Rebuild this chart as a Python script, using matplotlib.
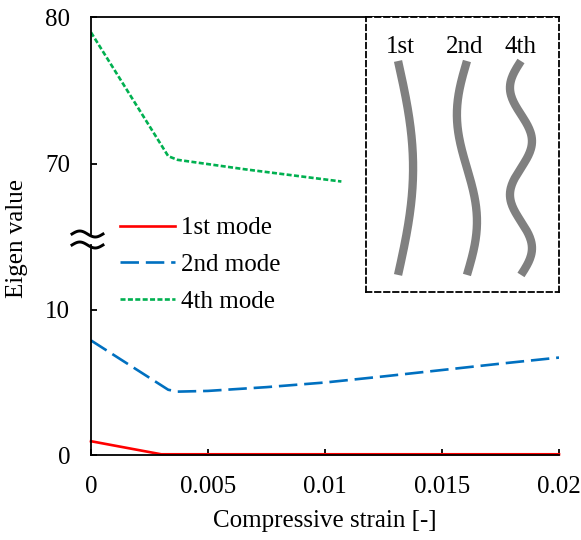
import numpy as np
import matplotlib
matplotlib.use('Agg')
import matplotlib.pyplot as plt
from matplotlib.lines import Line2D

plt.rcParams['font.family'] = ['Liberation Serif', 'DejaVu Serif']
plt.rcParams['font.size'] = 18

# data
strain_1st = [0, 0.003, 0.02]
eig_1st = [0.95, 0.05, 0.05]

strain_2nd = [0, 0.0033, 0.0037, 0.005, 0.0075, 0.01, 0.0125, 0.015, 0.0175, 0.02]
eig_2nd = [7.9, 4.5, 4.37, 4.42, 4.68, 5.0, 5.42, 5.86, 6.3, 6.72]

strain_4th = [0, 0.0033, 0.0037, 0.0066, 0.0107]
eig_4th = [78.95, 70.5, 70.25, 69.6, 68.77]

xticks = [0, 0.005, 0.01, 0.015, 0.02]
xticklabels = ['0', '0.005', '0.01', '0.015', '0.02']
legend_labels = ['1st mode', '2nd mode', '4th mode']

inset_labels = ['1st', '2nd', '4th']
inset_halfwaves = [1, 2, 4]

W, H = 581, 540
fig = plt.figure(figsize=(W / 100, H / 100), dpi=100)

def fx(px):
    return px / W

def fy(py):
    return 1 - py / H

left, right = 91, 559
ax_bot = fig.add_axes([fx(left), fy(455), fx(right - left), (455 - 245) / H])
ax_top = fig.add_axes([fx(left), fy(234), fx(right - left), (234 - 17) / H], sharex=ax_bot)

styles = [dict(color='#FF0000', lw=1.9, ls='-'),
          dict(color='#0070C0', lw=1.9, ls=(0, (7, 2.6))),
          dict(color='#00B050', lw=1.9, ls=(0, (1.9, 0.9)))]

for ax in (ax_bot, ax_top):
    ax.plot(strain_1st, eig_1st, clip_on=False, **styles[0])
    ax.plot(strain_2nd, eig_2nd, **styles[1])
    ax.plot(strain_4th, eig_4th, **styles[2])
    ax.spines['right'].set_visible(False)
    for s in ax.spines.values():
        s.set_linewidth(1.3)
    ax.tick_params(direction='in', length=4, width=1.3, pad=15, labelsize=18)

ax_bot.set_ylim(0, (455 - 245) / 14.5)
ax_top.set_ylim(80 - (234 - 17) / 14.65, 80)
ax_bot.set_xlim(0, 0.02)
ax_bot.spines['top'].set_visible(False)
ax_top.spines['bottom'].set_visible(False)
ax_top.tick_params(axis='x', bottom=False, labelbottom=False)
ax_bot.set_yticks([0, 10])
ax_top.set_yticks([70, 80])
ax_bot.set_xticks(xticks)
ax_bot.set_xticklabels(xticklabels)
ax_bot.tick_params(axis='x', pad=15)
ax_bot.set_xlabel('Compressive strain [-]', fontsize=18, labelpad=9)
fig.text(fx(17), fy(238), 'Eigen value', rotation=90, ha='center', va='center', fontsize=18)

# break marks on the y axis
t = np.linspace(0, 1, 40)
for yb in (234, 245):
    xs = 72 + 31 * t
    ys = yb - 3 * np.sin(2 * np.pi * t)
    fig.add_artist(Line2D(fx(xs), fy(ys), color='black', lw=2.1))

handles = [Line2D([], [], **st) for st in styles]
fig.legend(handles, legend_labels, loc='upper left', bbox_to_anchor=(fx(120), fy(217)),
           frameon=False, borderpad=0, borderaxespad=0, handlelength=2.2,
           handletextpad=0.25, labelspacing=0.56, fontsize=18)

# inset with mode shapes
axi = fig.add_axes([fx(366), fy(292), fx(559 - 366), (292 - 17) / H])
axi.set_xlim(0, 1)
axi.set_ylim(0, 1)
axi.set_xticks([])
axi.set_yticks([])
for s in axi.spines.values():
    s.set_linestyle((0, (3, 2)))
    s.set_linewidth(1.3)
centers = [0.166, 0.523, 0.803]
amps = [0.078, -0.052, -0.057]
label_x = [0.18, 0.513, 0.803]
ty = np.linspace(0, 1, 200)
for lab, n, c, a, lx in zip(inset_labels, inset_halfwaves, centers, amps, label_x):
    xs = c + a * np.sin(n * np.pi * ty)
    ys = 0.84 - (0.84 - 0.062) * ty
    axi.plot(xs, ys, color='#808080', lw=6, solid_capstyle='butt')
    axi.text(lx, 0.89, lab, ha='center', va='center', fontsize=18)

fig.savefig('out.png', dpi=100)
